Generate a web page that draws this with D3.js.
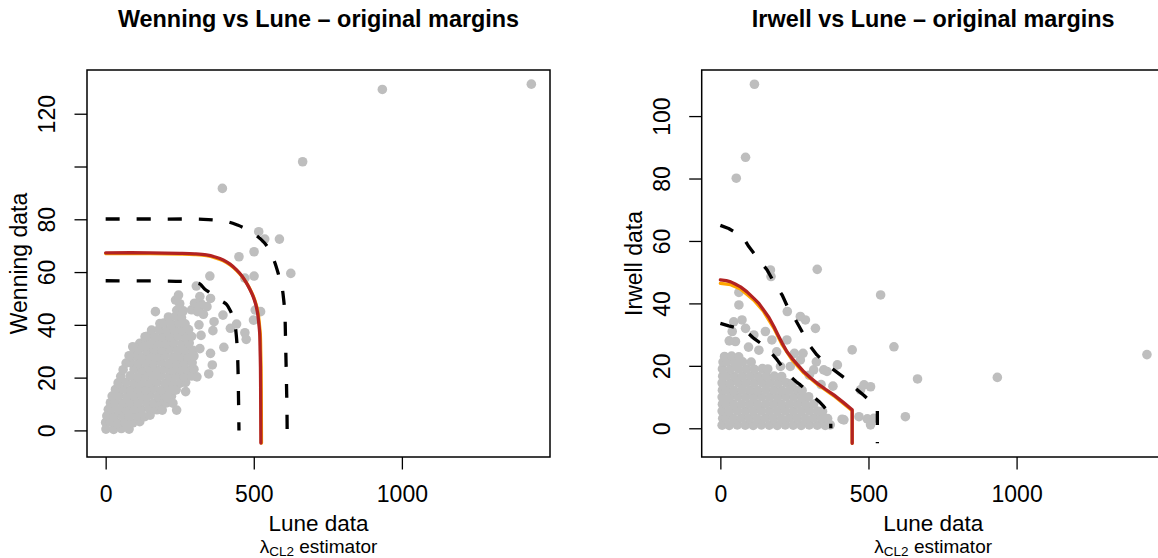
<!DOCTYPE html>
<html>
<head>
<meta charset="utf-8">
<script src="https://cdn.jsdelivr.net/npm/d3@7"></script>
<style>
  body { margin: 0; background: #fff; }
  text { font-family: "Liberation Sans", Arial, Helvetica, sans-serif; }
</style>
</head>
<body>
<div id="chart"></div>
<script>
// ---- data (Lune on x, other river on y) ----
var xTicks = [0, 500, 1000];
var wenYTicks = [0, 20, 40, 60, 80, 100, 120];
var wenYLabels = [0, 20, 40, 60, 80, 120];   // 100 is dropped in the original (overlap)
var irwYTicks = [0, 20, 40, 60, 80, 100];
var irwYLabels = [0, 20, 40, 60, 80, 100];

// Wenning vs Lune points
var wenPts = [
  [1,0.5],[27,0.4],[53,0.7],[79,0.5],
  [0,3],[14,3.2],[40,2.8],[66,3.1],[92,2.9],[115,3.3],
  [4,5.5],[28,5.3],[54,5.7],[80,5.4],[106,5.6],[132,5.2],[150,5.8],
  [9,8],[17,8.2],[43,7.8],[69,8.1],[95,8],[121,7.9],[147,8.3],[173,7.8],[188,8.1],
  [16,10.5],[32,10.7],[58,10.3],[84,10.6],[110,10.4],[136,10.8],[162,10.3],[188,10.6],[205,10.4],
  [22,13],[45,13.2],[71,12.8],[97,13.1],[123,12.9],[149,13.3],[175,12.8],[201,13.1],[222,12.9],
  [33,15.5],[58,15.7],[84,15.3],[110,15.6],[136,15.4],[162,15.8],[188,15.3],[214,15.6],[238,15.4],
  [42,18],[70,18.2],[96,17.8],[122,18.1],[148,17.9],[174,18.3],[200,17.8],[226,18.1],[252,17.9],[270,18.2],
  [51,20.5],[83,20.7],[109,20.3],[135,20.6],[161,20.4],[187,20.8],[213,20.3],[239,20.6],[265,20.4],[290,20.6],
  [59,23],[96,23.2],[122,22.8],[148,23.1],[174,22.9],[200,23.3],[226,22.8],[252,23.1],[278,22.9],[298,23.2],
  [69,25.5],[84,25.7],[110,25.3],[136,25.6],[162,25.4],[188,25.8],[214,25.3],[240,25.6],[266,25.4],[292,25.6],
  [83,28],[97,28.2],[123,27.8],[149,28.1],[175,27.9],[201,28.3],[227,27.8],[253,28.1],[279,27.9],[298,28.2],
  [98,30.5],[112,30.7],[138,30.3],[164,30.6],[190,30.4],[216,30.8],[242,30.3],[268,30.6],[294,30.4],
  [115,33],[126,33.2],[152,32.8],[178,33.1],[204,32.9],[230,33.3],[256,32.8],[282,33.1],
  [133,35.5],[140,35.7],[166,35.3],[192,35.6],[218,35.4],[244,35.8],[270,35.3],[290,35.6],
  [155,38],[180,38.2],[206,37.8],[232,38.1],[258,37.9],[280,38.2],
  [183,40.5],[196,40.7],[222,40.3],[248,40.6],[268,40.4],
  [212,43],[236,43.2],[256,42.8],
  [240,45.5],[262,45.3],[290,45.7],[315,45.4],[250,48],[300,48.2],[322,47.9],
  [315,40],[322,36],[318,31],[330,44],[310,45],
  // scattered points around the main cloud
  [91.5,31.7],[79,28.3],[134.7,32],[168,45],[236,49.4],[246,51.3],[306,54.7],[318,50.7],
  [354,50],[342,46.9],[351.7,58.5],[366,41.2],[396,43.7],[362,37.8],[399,31.5],[354,29.2],
  [360,24.8],[348,21.4],[308,20.3],[270,14.7],[234,15.3],[207,12.4],[227,10.3],[239.6,7.7],
  [191,7.7],[421,38.7],[442,40.3],[470,37],[474.5,34.5],[499,41.8],[505,45.6],[523,45],
  [470,57.7],[501,58.5],[450,65.8],[501,67.7],[516.7,75.3],[537,72.5],[586.6,72.5],[625,59.5],
  [394,91.7],[665,101.8],[934,129.2],[1437,131.2]
];

// Irwell vs Lune points
var irwPts = [
  [6,1],[30,0.9],[57,1.1],[84,1],[111,0.9],[138,1.1],[165,1],[192,0.9],[219,1.1],[246,1],[273,0.9],[300,1.1],[327,1],[354,0.9],[371,1.1],
  [8,3.2],[19,3.3],[44,3.1],[71,3.3],[98,3.2],[125,3.1],[152,3.3],[179,3.2],[206,3.1],[233,3.3],[260,3.2],[287,3.1],[314,3.3],[341,3.2],[362,3.1],
  [6,5.5],[31,5.4],[58,5.6],[85,5.5],[112,5.4],[139,5.6],[166,5.5],[193,5.4],[220,5.6],[247,5.5],[274,5.4],[301,5.6],[328,5.5],[345,5.4],
  [7,7.7],[19,7.8],[45,7.6],[72,7.8],[99,7.7],[126,7.6],[153,7.8],[180,7.7],[207,7.6],[234,7.8],[261,7.7],[288,7.6],[315,7.8],
  [6,10],[32,9.9],[59,10.1],[86,10],[113,9.9],[140,10.1],[167,10],[194,9.9],[221,10.1],[248,10],[275,9.9],[298,10.1],
  [7,12.2],[20,12.3],[46,12.1],[73,12.3],[100,12.2],[127,12.1],[154,12.3],[181,12.2],[208,12.1],[235,12.3],[262,12.2],[276,12.1],
  [6,14.5],[33,14.4],[60,14.6],[87,14.5],[114,14.4],[141,14.6],[168,14.5],[195,14.4],[222,14.6],[244,14.5],
  [8,16.7],[21,16.8],[47,16.6],[74,16.8],[101,16.7],[128,16.6],[155,16.8],[182,16.7],[207,16.6],
  [7,19],[34,18.9],[61,19.1],[88,19],[115,18.9],[142,19.1],[160,19],
  [9,21.2],[22,21.3],[48,21.1],[75,21.3],[104,21.2],
  [14,23],[38,23.1],[62,22.9],
  // scattered points
  [45,34.1],[73,34.7],[62.6,39.5],[62.6,43.5],[85,32],[51,27.8],[113,29.9],[152,31],[174,28.3],
  [226,37.4],[270,35.8],[287,34.7],[321,32],[169,50.7],[171,48.6],[327,50.9],[541,42.7],[586,26.1],
  [445,25.1],[395,20.3],[360,18.2],[315,18.7],[270,21.9],[236,19.8],[203,19.8],[485,13.9],[507,13.3],
  [473,12.3],[417,2.7],[468,3.7],[496,3],[518,3.2],[507,1.1],[624.6,3.7],[665.6,15.8],[935,16.3],
  [1440,23.6],[115,110.2],[85,86.8],[53.7,80.1],[224.5,28.3],[279,24],[324,21.3],[349,18.7],[411,2.9],
  [380,13.5],[340,14],[300,17],[250,24],[190,24.5],[130,25],[95,26],[30,28],[40,31]
];

// lambda_CL2 estimator curves and bounds
var wenRed = [[0,67.3],[150,67.3],[250,67.1],[300,66.9],[340,66.5],[370,65.7],[397,64.6],[420,63],[442,60.8],[460,58.5],[476,55.7],[488,53.2],[498,50.7],[507,47.6],[513,44.4],[517,40.5],[520,36.8],[521.5,30],[522.6,24],[523.3,12],[523.8,0],[524,-4.8]];
var wenOrange = [[0,67],[150,67],[250,66.8],[300,66.6],[340,66.2],[370,65.4],[397,64.3],[420,62.7],[443,60.5],[461,58.2],[478,55.4],[490,52.9],[500,50.4],[509,47.3],[515,44.1],[519,40.2],[522,36.5],[523.5,30],[524.6,24],[525.3,12],[525.8,0],[526,-4.8]];
var wenUpper = [[0,80.1],[200,80.1],[330,80],[380,79.6],[414,79],[445,77.8],[475,76.3],[505,74.2],[535,71.2],[555,68],[571,63.6],[585,58.5],[595,54.5],[601,49.5],[605,44],[607.5,33],[610,20],[612,8],[613,-4.9]];
var wenLower = [[0,56.7],[200,56.6],[280,56.3],[300,56],[318,55.5],[335,53.5],[350,52.3],[374,50.5],[392,49],[408,47.8],[420,45.5],[430,43],[436,40.6],[441,36],[444.5,30.5],[447,22],[448.5,12],[450,0]];

var irwRed = [[0,47.5],[20,47.3],[35,46.9],[50,46.2],[68,45.3],[90,43.7],[113,41.6],[130,40],[146,37.9],[164,35.5],[181,32.5],[195,29.8],[209,27.2],[225,24.5],[242,22.4],[262,20.2],[282,18.1],[305,16.1],[327,14.4],[355,12.5],[383,10.7],[415,8.3],[445,5.9],[445,-4.8]];
var irwOrange = [[0,46.4],[35,46],[68,44.6],[113,41],[146,37.4],[181,32],[209,26.7],[242,21.9],[282,17.7],[327,14.1],[383,10.4],[445,5.6],[445,-4.8]];
var irwUpper = [[0,65],[28,64],[55,62.5],[79,60.8],[96,58.2],[115,55.8],[135,53.4],[158,50.7],[186,45.9],[209,42.6],[237,36.8],[254,34.7],[282,29.9],[304,26.2],[326,23.5],[349,21.4],[383,18.7],[428,15.5],[462,12.3],[485,10.5],[507,8.5],[530,5.9],[530,-4.8]];
var irwLower = [[0,33.6],[28,32.8],[50,32.3],[79,31.5],[95,30.4],[113,28.8],[135,27.3],[158,25.6],[175,23.8],[192,21.9],[215,19],[237,16.5],[255,15],[270,13.9],[293,12],[315,10.1],[333,8.6],[349,7],[362,5.5],[372,3.7],[373,0]];

// ---- layout ----
var W = 1158, H = 558;
var boxW = 463, boxTop = 70, boxBottom = 457;
var tickLen = 12.5;

var svg = d3.select("#chart").append("svg")
    .attr("width", W)
    .attr("height", H);

function drawPanel(p) {
    var x = d3.scaleLinear().domain([-63, 1500]).range([p.left, p.left + boxW]);
    var y = d3.scaleLinear().domain(p.yDomain).range([boxBottom, boxTop]);
    var g = svg.append("g");

    var cid = "clip" + p.id;
    g.append("clipPath").attr("id", cid)
      .append("rect")
        .attr("x", p.left).attr("y", boxTop)
        .attr("width", boxW).attr("height", boxBottom - boxTop);

    var plot = g.append("g").attr("clip-path", "url(#" + cid + ")");

    plot.selectAll("circle")
        .data(p.pts)
        .enter().append("circle")
        .attr("cx", function(d) { return x(d[0]); })
        .attr("cy", function(d) { return y(d[1]); })
        .attr("r", 4.8)
        .attr("fill", "#bebebe");

    var line = d3.line()
        .x(function(d) { return x(d[0]); })
        .y(function(d) { return y(d[1]); })
        .curve(p.curve);

    [p.upper, p.lower].forEach(function(s) {
        plot.append("path")
            .attr("d", line(s))
            .attr("fill", "none")
            .attr("stroke", "#000")
            .attr("stroke-width", 3.3)
            .attr("stroke-linejoin", "round")
            .attr("stroke-dasharray", "14,17");
    });
    plot.append("path")
        .attr("d", line(p.orange))
        .attr("fill", "none")
        .attr("stroke", "orange")
        .attr("stroke-width", 3.3)
        .attr("stroke-linejoin", "round")
        .attr("stroke-linecap", "round");
    plot.append("path")
        .attr("d", line(p.red))
        .attr("fill", "none")
        .attr("stroke", "#b22222")
        .attr("stroke-width", 3.3)
        .attr("stroke-linejoin", "round")
        .attr("stroke-linecap", "round");

    // box
    g.append("rect")
        .attr("x", p.left).attr("y", boxTop)
        .attr("width", boxW).attr("height", boxBottom - boxTop)
        .attr("fill", "none")
        .attr("stroke", "#000")
        .attr("stroke-width", 1.5);

    // x axis
    var xAxis = d3.axisBottom(x).tickValues(xTicks).tickSize(tickLen).tickFormat(d3.format("d"));
    var gx = g.append("g").attr("transform", "translate(0," + boxBottom + ")").call(xAxis);
    gx.select(".domain").remove();
    gx.selectAll(".tick line").attr("stroke", "#000").attr("stroke-width", 1.3);
    gx.selectAll(".tick text")
        .attr("y", 44.7).attr("dy", 0)
        .attr("fill", "#000")
        .style("font-size", "23px")
        .style("font-family", "Liberation Sans, Arial, sans-serif");

    // y axis
    var yAxis = d3.axisLeft(y).tickValues(p.yTicks).tickSize(tickLen)
        .tickFormat(function(d) { return p.yLabels.indexOf(d) >= 0 ? d : ""; });
    var gy = g.append("g").attr("transform", "translate(" + p.left + ",0)").call(yAxis);
    gy.select(".domain").remove();
    gy.selectAll(".tick line").attr("stroke", "#000").attr("stroke-width", 1.3);
    gy.selectAll(".tick text")
        .attr("x", 0).attr("dy", 0)
        .attr("text-anchor", "middle")
        .attr("transform", "translate(-32,0) rotate(-90)")
        .attr("fill", "#000")
        .style("font-size", "23px")
        .style("font-family", "Liberation Sans, Arial, sans-serif");

    var cx = p.left + boxW / 2;
    g.append("text")
        .attr("x", cx).attr("y", 27)
        .attr("text-anchor", "middle")
        .style("font-size", "23.4px")
        .style("font-weight", "bold")
        .text(p.title);

    g.append("text")
        .attr("x", cx).attr("y", 530.5)
        .attr("text-anchor", "middle")
        .style("font-size", "22.5px")
        .text("Lune data");

    var sub = g.append("text")
        .attr("x", cx).attr("y", 552.5)
        .attr("text-anchor", "middle")
        .style("font-size", "19px");
    sub.append("tspan").text("\u03bb");
    sub.append("tspan").attr("dy", 3.5).style("font-size", "13.5px").text("CL2");
    sub.append("tspan").attr("dy", -3.5).text(" estimator");

    g.append("text")
        .attr("transform", "translate(" + (p.left - 59.7) + "," + ((boxTop + boxBottom) / 2) + ") rotate(-90)")
        .attr("text-anchor", "middle")
        .style("font-size", "23px")
        .text(p.yTitle);
}

drawPanel({
    id: 1, left: 87, yDomain: [-10.08, 136.57], curve: d3.curveCatmullRom.alpha(0.5),
    pts: wenPts, red: wenRed, orange: wenOrange, upper: wenUpper, lower: wenLower,
    yTicks: wenYTicks, yLabels: wenYLabels,
    title: "Wenning vs Lune \u2013 original margins", yTitle: "Wenning data"
});
drawPanel({
    id: 2, left: 701.7, yDomain: [-9.2, 114.76], curve: d3.curveLinear,
    pts: irwPts, red: irwRed, orange: irwOrange, upper: irwUpper, lower: irwLower,
    yTicks: irwYTicks, yLabels: irwYLabels,
    title: "Irwell vs Lune \u2013 original margins", yTitle: "Irwell data"
});
</script>
</body>
</html>
